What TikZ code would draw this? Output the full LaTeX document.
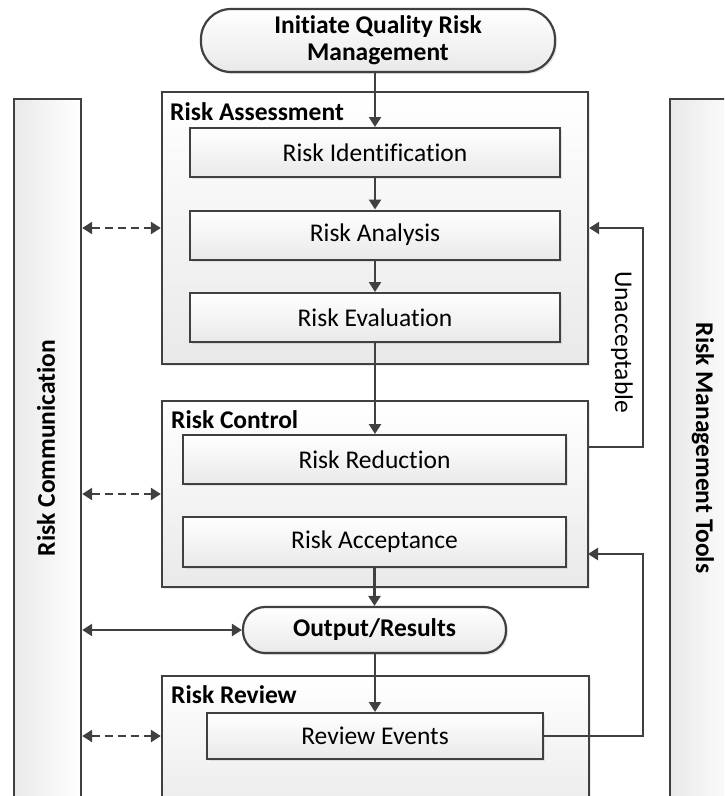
\documentclass[tikz,border=0pt]{standalone}
\usepackage{fontspec}
\setmainfont{Carlito}[Ligatures=NoCommon]
\usetikzlibrary{arrows.meta,shadows,calc}

\definecolor{lineclr}{HTML}{404040}
\definecolor{shadeclr}{HTML}{E9E9E9}

\tikzset{
  boxbase/.style={draw=lineclr, line width=2pt, rectangle, inner sep=0pt,
    top color=white, bottom color=shadeclr,
    drop shadow={shadow xshift=2pt, shadow yshift=-2pt, opacity=0.18}},
  group/.style={boxbase, line width=2.3pt},
  stepbox/.style={boxbase, font=\fontsize{25.5}{29}\selectfont},
  pill/.style={boxbase, line width=2.2pt, rounded corners=22pt, font=\fontsize{25.5}{27}\selectfont\bfseries, align=center},
  column/.style={draw=lineclr, line width=2.4pt, rectangle, inner sep=0pt,
    left color=shadeclr, right color=white},
  grouplabel/.style={anchor=base west, inner sep=0pt, font=\fontsize{25.5}{29}\selectfont\bfseries},
  arr/.style={draw=lineclr, line width=2.4pt, -{Triangle[length=10pt,width=12pt]}},
  biarr/.style={draw=lineclr, line width=2.4pt, {Triangle[length=10pt,width=12pt]}-{Triangle[length=10pt,width=12pt]}},
  dasharr/.style={biarr, dash pattern=on 8pt off 5pt}
}

\begin{document}
\begin{tikzpicture}[x=1pt,y=-1pt]
\clip (0,0) rectangle (724,796);
\fill[white] (0,0) rectangle (724,796);

% side columns
\node[column, minimum width=67pt, minimum height=721pt] (rc) at (47.5,459.5) {};
\node[rotate=90, font=\fontsize{25.5}{29}\selectfont\bfseries] (rctext) at (46,448) {Risk Communication};
\node[column, minimum width=70pt, minimum height=721pt] (rmt) at (705,459.5) {};
\node[rotate=-90, font=\fontsize{25.5}{29}\selectfont\bfseries] (rmttext) at (703,448) {Risk Management Tools};

% start terminal
\node[pill, minimum width=354pt, minimum height=63pt, rounded corners=30pt] (init) at (378,40.5)
  {Initiate Quality Risk\\Management};

% risk assessment group
\node[group, minimum width=426pt, minimum height=272pt] (ra) at (375,228) {};
\node[grouplabel] (ralabel) at (170,120) {Risk Assessment};
\node[stepbox, minimum width=370pt, minimum height=49pt] (ri) at (375,152.5) {Risk Identification};
\node[stepbox, minimum width=370pt, minimum height=49pt] (ran) at (375,235) {Risk Analysis};
\node[stepbox, minimum width=370pt, minimum height=49pt] (rev) at (375,317.5) {Risk Evaluation};

% risk control group
\node[group, minimum width=426pt, minimum height=186pt] (rctl) at (375,494) {};
\node[grouplabel] (rctllabel) at (171,428) {Risk Control};
\node[stepbox, minimum width=383pt, minimum height=49pt] (rred) at (374.5,459.5) {Risk Reduction};
\node[stepbox, minimum width=383pt, minimum height=50pt] (racc) at (374.5,542) {Risk Acceptance};

% output terminal
\node[pill, minimum width=263pt, minimum height=46pt] (out) at (374.5,630) {Output/Results};

% risk review group
\node[group, minimum width=427pt, minimum height=150pt] (rrev) at (375.5,751) {};
\node[grouplabel] (rrevlabel) at (171,703) {Risk Review};
\node[stepbox, minimum width=336pt, minimum height=46pt] (revev) at (375,736) {Review Events};

% main flow
\draw[arr] (init.south -| ri.north) -- (ri.north);
\draw[arr] (ri) -- (ran);
\draw[arr] (ran) -- (rev);
\draw[arr] (rev.south) -- (rred.north -| rev.south);
\draw[arr] (racc.south -| out.north) -- (out.north);
\draw[arr] (out.south -| revev.north) -- (revev.north);

% feedback loops
\coordinate (unacc) at (588,447);
\draw[arr] (unacc) -- (643,447) |- (ra.east);
\node[rotate=-90, font=\fontsize{25.5}{29}\selectfont] (unacclabel) at (622,342) {Unacceptable};
\coordinate (revtarget) at (588,554);
\draw[arr] (revev.east) -- (643,736) |- (revtarget);

% communication links
\draw[dasharr] (rc.east |- ra.west) -- (ra.west);
\draw[dasharr] (rc.east |- rctl.west) -- (rctl.west);
\draw[dasharr] (rc.east |- revev.west) -- (rrev.west |- revev.west);
\draw[biarr] (rc.east |- out.west) -- (out.west);
\end{tikzpicture}
\end{document}
